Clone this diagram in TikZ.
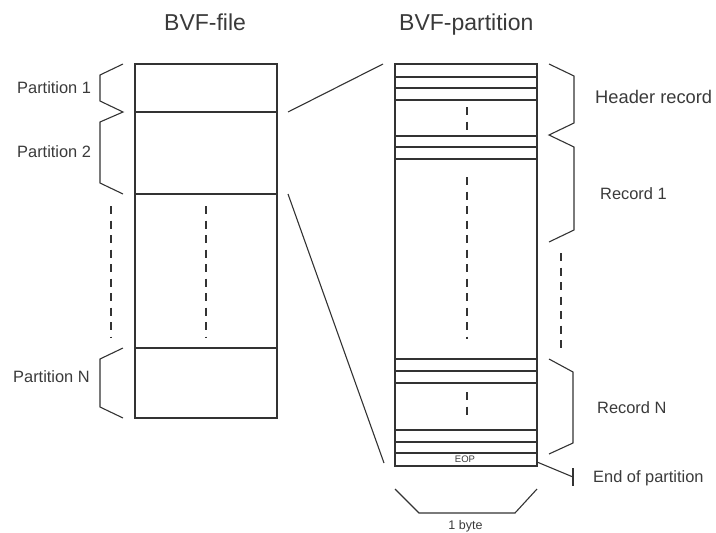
\documentclass[tikz,border=0pt]{standalone}
\usepackage{fontspec}
\setmainfont{Liberation Sans}
\definecolor{lc}{HTML}{333333}
\definecolor{tc}{HTML}{3A3A3A}
\begin{document}
\begin{tikzpicture}[x=1pt,y=-1pt,
  ln/.style={draw=lc, line width=1.35pt, line join=miter},
  thin/.style={draw=lc, line width=1.1pt},
  dsh/.style={draw=lc, line width=1.3pt, dash pattern=on 8pt off 6.5pt},
  lbl/.style={text=tc, inner sep=0pt, anchor=base west, font=\fontsize{16.4}{19}\selectfont},
  hdr/.style={lbl, font=\fontsize{18.3}{21}\selectfont},
  ttl/.style={lbl, font=\fontsize{23}{27}\selectfont},
  tiny/.style={text=tc, inner sep=0pt, anchor=base, font=\fontsize{9.5}{11}\selectfont},
  small/.style={text=tc, inner sep=0pt, anchor=base, font=\fontsize{12.5}{15}\selectfont}]
\useasboundingbox (0,0) rectangle (716,533);
% titles
\node[ttl] (tfile) at (164,30) {BVF-file};
\node[ttl] (tpart) at (399,30) {BVF-partition};
% left file box
\draw[ln] (135,64) rectangle (277,418);
\draw[ln] (135,112) -- (277,112);
\draw[ln] (135,194) -- (277,194);
\draw[ln] (135,348) -- (277,348);
\draw[dsh] (206,206) -- (206,337);
\draw[dsh] (111,206) -- (111,337);
% left braces
\draw[thin] (123,64) -- (100,75) -- (100,101) -- (123,112) -- (100,122) -- (100,183) -- (123,194);
\draw[thin] (123,348) -- (100,359) -- (100,407) -- (123,418);
\node[lbl] (p1) at (17,93) {Partition 1};
\node[lbl] (p2) at (17,157) {Partition 2};
\node[lbl] (pn) at (13,382) {Partition N};
% right partition box
\draw[ln] (395,64) rectangle (537,466);
\foreach \yy in {77,88,100,136,147,159,359,371,383,430,442,453}
  \draw[ln] (395,\yy) -- (537,\yy);
\draw[dsh] (467,107) -- (467,131);
\draw[dsh] (467,177) -- (467,339);
\draw[dsh] (467,392) -- (467,417);
\draw[dsh] (561,253) -- (561,348);
\node[tiny] (eop) at (465,462) {EOP};
% zoom lines
\coordinate (za) at (288,112);
\coordinate (zb) at (383,64);
\coordinate (zc) at (288,194);
\coordinate (zd) at (384,463);
\draw[thin] (za) -- (zb);
\draw[thin] (zc) -- (zd);
% right braces
\draw[thin] (549,64) -- (574,76) -- (574,123) -- (549,135) -- (574,147) -- (574,230) -- (549,242);
\draw[thin] (549,359) -- (573,372) -- (573,443) -- (549,454);
\coordinate (ea) at (537,462);
\coordinate (eb) at (573,477);
\draw[thin] (ea) -- (eb);
\draw[thin] (573,468) -- (573,486);
\draw[thin] (395,489) -- (419,513) -- (515,513) -- (537,489);
\node[hdr] (hr) at (595,103) {Header record};
\node[lbl] (r1) at (600,199) {Record 1};
\node[lbl] (rn) at (597,413) {Record N};
\node[lbl] (ep) at (593,482) {End of partition};
\node[small] (byte) at (465.5,529.5) {1 byte};
\end{tikzpicture}
\end{document}
